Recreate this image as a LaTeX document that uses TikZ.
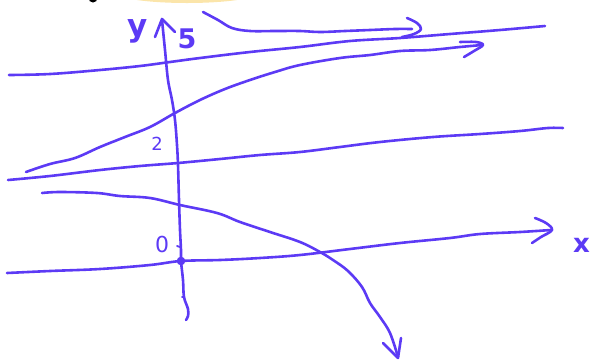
\documentclass[tikz,border=0pt]{standalone}
\usepackage{tikz}
\usepackage{fontspec}
\newfontfamily\handfont{DejaVu Sans}
\definecolor{ink}{RGB}{92,58,245}
\definecolor{blob}{RGB}{251,229,170}
\tikzset{
  pen/.style={draw=ink, line width=2.6pt, line cap=round, line join=round},
  lab/.style={text=ink, inner sep=0pt},
}
\begin{document}
\begin{tikzpicture}[x=1pt,y=-1pt]
\useasboundingbox (0,0) rectangle (592,360);
% cropped remnants at the top edge
\fill[blob] (187,-9) ellipse [x radius=76, y radius=12];
\fill[black] (93,-2) circle [radius=4.5];
% curve A (top, arrow right)
\draw[pen] plot[smooth, tension=0.6] coordinates {(203,12) (218,20) (232,28) (250,31) (275,31) (300,31) (320,32) (345,31) (370,30) (395,29) (412,29)};
\draw[pen] plot[smooth, tension=0.6] coordinates {(407,18) (417,23) (421,29) (414,34) (402,37)};
% curve B (long line)
\draw[pen] plot[smooth, tension=0.6] coordinates {(9,75) (50,74) (100,70) (140,66) (170,62) (200,58) (250,52) (300,47) (350,41) (400,38) (450,34) (500,30) (545,26)};
% curve C (rising, arrow right)
\draw[pen] plot[smooth, tension=0.6] coordinates {(26,172) (50,164) (75,158) (100,147) (125,137) (150,127) (175,113) (200,100) (225,89) (250,80) (275,72) (300,65) (340,58) (370,55) (400,51) (430,50) (460,47) (482,45)};
\draw[pen] plot[smooth, tension=0.6] coordinates {(460,42) (476,42) (483,45) (474,51) (464,57)};
% curve D (long line)
\draw[pen] plot[smooth, tension=0.6] coordinates {(8,180) (50,176) (100,170) (140,166) (178,163) (220,159) (260,155) (300,152) (340,147) (380,142) (433,137) (480,134) (520,131) (548,128) (563,128)};
% curve E (falling, arrow down)
\draw[pen] plot[smooth, tension=0.6] coordinates {(42,193) (60,192) (97,193) (120,196) (150,198) (180,205) (217,213) (240,222) (270,232) (300,242) (320,252) (333,260) (348,271) (362,287) (370,303) (380,317) (390,333) (398,357)};
\draw[pen] (383,343) -- (398,358) -- (401,338);
% x axis
\draw[pen] plot[smooth, tension=0.6] coordinates {(7,273) (50,271) (100,269) (150,265) (181,261) (220,260) (260,258) (300,255) (350,249) (400,243) (450,238) (480,234) (520,232) (551,230)};
\draw[pen] plot[smooth, tension=0.6] coordinates {(535,218) (546,223) (552,230) (541,237) (532,243)};
% y axis
\draw[pen] plot[smooth, tension=0.6] coordinates {(162,20) (165,50) (168,80) (172,100) (175,120) (177,145) (178,165) (179,200) (180,230) (181,250) (181,261) (183,280) (184,297) (188,309) (188,316) (186,320)};
\draw[pen] (155,37) -- (162,19) -- (175,32);
\draw[pen, line width=1.8pt] (177,246) -- (180,247);
\draw[pen, line width=1.8pt] (182,297) -- (184,297);
% origin dot
\fill[ink] (181,261) circle [radius=4.3];
% labels
\node[lab, font=\handfont\bfseries\fontsize{31}{31}\selectfont] (ylab) at (138,31) {y};
\node[lab, font=\handfont\bfseries\fontsize{27}{27}\selectfont] (five) at (187,39) {5};
\node[lab, font=\handfont\fontsize{18}{18}\selectfont] (two) at (157,144) {2};
\node[lab, font=\handfont\fontsize{22}{22}\selectfont] (zero) at (162,244) {0};
\node[lab, font=\handfont\bfseries\fontsize{26}{26}\selectfont, anchor=east] (xlab) at (590,245) {x};
\end{tikzpicture}
\end{document}
